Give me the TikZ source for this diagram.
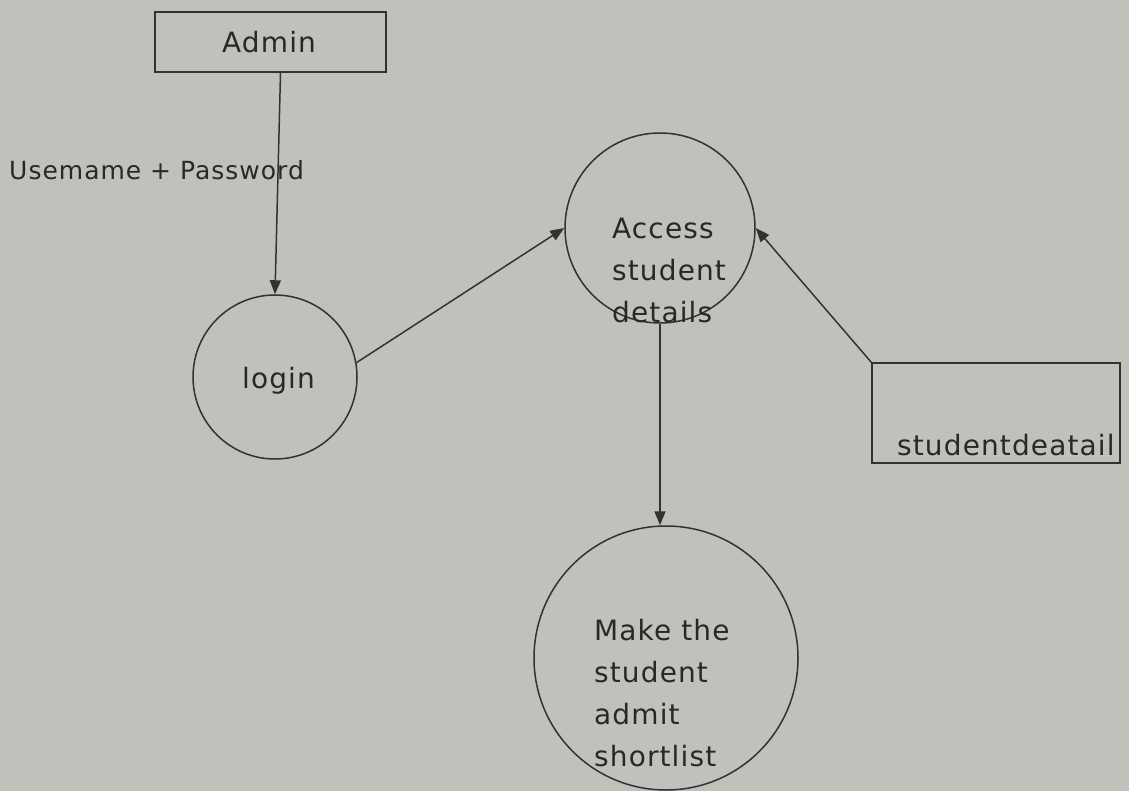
\documentclass[tikz,border=0pt]{standalone}
\usepackage{fontspec}
\setmainfont[LetterSpace=4]{DejaVu Sans}
\usetikzlibrary{arrows.meta}
\definecolor{paper}{RGB}{193,193,187}
\definecolor{ink}{RGB}{50,50,50}
\definecolor{txt}{RGB}{40,40,40}
\tikzset{
  proc/.style={draw=ink, line width=1.5pt, circle, inner sep=0pt},
  store/.style={draw=ink, line width=1.5pt, rectangle, inner sep=0pt},
  lbl/.style={text=txt, font=\fontsize{28}{42}\selectfont, align=left, inner sep=0pt, anchor=west},
  flow/.style={draw=ink, line width=1.5pt, -{Triangle[length=14pt,width=11pt]}},
}
\begin{document}
\begin{tikzpicture}[x=1pt,y=-1pt]
\fill[paper] (0,0) rectangle (1129,791);
\useasboundingbox (0,0) rectangle (1129,791);
% entities / processes
\node[store, minimum width=231pt, minimum height=60pt] (admin) at (270.5,42) {};
\node[lbl] (admintxt) at (222,42) {Admin};
\node[proc, minimum size=164pt] (login) at (275,377) {};
\node[lbl] (logintxt) at (242,381) {login};
\node[proc, minimum size=190pt] (access) at (660,228) {};
\node[lbl] (accesstxt) at (612,270) {Access\\student\\details};
\node[proc, minimum size=264pt] (short) at (666,658) {};
\node[lbl] (shorttxt) at (594,693) {Make the\\student\\admit\\shortlist};
\node[store, minimum width=248pt, minimum height=100pt] (sd) at (996,413) {};
\node[lbl] (sdtxt) at (897,445) {studentdeatail};
% flow label
\node[lbl, font=\fontsize{25}{30}\selectfont] (cred) at (9,170) {Usemame + Password};
% flows
\draw[flow] ([xshift=10pt]admin.south) -- (login.north);
\draw[flow] (login.10) -- (access.west);
\draw[flow] (access.south) -- (access.south |- short.north);
\draw[flow] (sd.north west) -- (access.east);
\end{tikzpicture}
\end{document}
